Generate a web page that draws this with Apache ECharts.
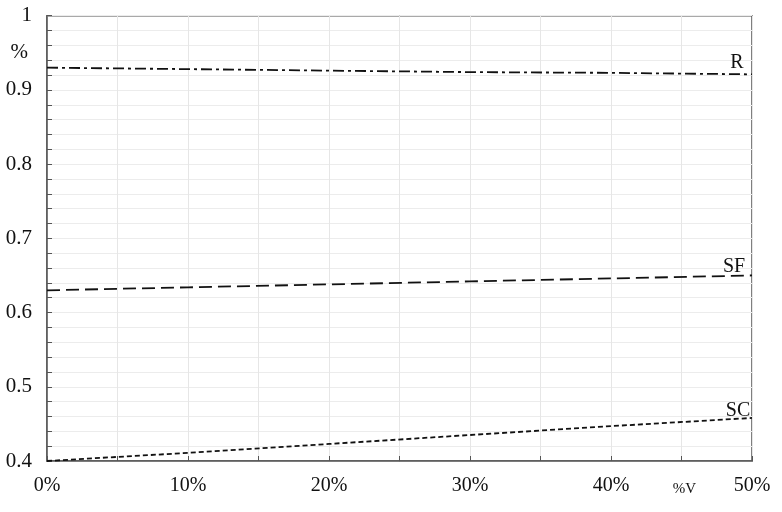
<!DOCTYPE html>
<html><head><meta charset="utf-8">
<script src="https://cdn.jsdelivr.net/npm/echarts@6/dist/echarts.min.js"></script>
<style>html,body{margin:0;padding:0;background:#fff}#c{width:782px;height:512px}</style>
</head><body><div id="c"></div>
<script>
var xValues = [0, 10, 20, 30, 40, 50];
var seriesR = [0.930, 0.928, 0.926, 0.924, 0.923, 0.921];
var seriesSF = [0.630, 0.634, 0.638, 0.642, 0.646, 0.650];
var seriesSC = [0.400, 0.411, 0.423, 0.435, 0.447, 0.458];
var seriesNames = ['R', 'SF', 'SC'];
var yUnitLabel = '%';
var xUnitLabel = '%V';

function pairs(ys){ return xValues.map(function(x,i){ return [x, ys[i]]; }); }
var font = 'Liberation Serif';
function mk(name, ys, dash, off){
  var d = pairs(ys);
  var last = d.length - 1;
  d[last] = {value: d[last], label: {show: true, formatter: name, position: 'inside', offset: off,
    fontFamily: font, fontSize: 20, color: '#111'}};
  return {type: 'line', name: name, data: d, symbol: 'circle', symbolSize: 1, showSymbol: true,
    itemStyle: {color: 'rgba(0,0,0,0)', borderWidth: 0},
    lineStyle: {color: '#111', width: 1.8, type: dash}, z: 5,
    label: {show: false}};
}
var chart = echarts.init(document.getElementById('c'), null, {renderer: 'canvas'});
chart.setOption({
  animation: false,
  backgroundColor: '#fff',
  grid: {left: 47, right: 30, top: 15.7, bottom: 51, show: true, borderColor: '#555', borderWidth: 1.5, backgroundColor: 'transparent'},
  xAxis: {
    type: 'value', min: 0, max: 50, interval: 5,
    axisLine: {show: true, lineStyle: {color: '#555', width: 1.5}},
    axisTick: {show: true, inside: true, length: 5, lineStyle: {color: '#555'}},
    splitLine: {show: true, lineStyle: {color: '#e6e6e6', width: 1}},
    axisLabel: {
      margin: 15, fontFamily: font, fontSize: 20, color: '#111',
      formatter: function(v){
        if (Math.abs(v - 45) < 1e-6) return '{s|' + xUnitLabel + '}';
        if (Math.abs(v % 10) < 1e-6) return v + '%';
        return '';
      },
      rich: {s: {fontFamily: font, fontSize: 15, color: '#111', padding: [6, 0, 0, 6]}}
    }
  },
  yAxis: [{
    type: 'value', min: 0.4, max: 1, interval: 0.02,
    axisLine: {show: true, lineStyle: {color: '#555', width: 1.5}},
    axisTick: {show: true, inside: true, length: 5, lineStyle: {color: '#555'}},
    splitLine: {show: true, lineStyle: {color: '#ececec', width: 1}},
    axisLabel: {
      margin: 15, fontFamily: font, fontSize: 21, color: '#111',
      formatter: function(v){
        var t = v * 10;
        if (Math.abs(t - Math.round(t)) < 1e-6) {
          var r = Math.round(t) / 10;
          return r === 1 ? '1' : r.toFixed(1);
        }
        return '';
      }
    }
  }, {
    type: 'value', min: 0.4, max: 1, interval: 0.05, position: 'left',
    axisLine: {show: false}, axisTick: {show: false}, splitLine: {show: false},
    axisLabel: {
      margin: 19, fontFamily: font, fontSize: 21, color: '#111',
      formatter: function(v){ return Math.abs(v - 0.95) < 1e-6 ? yUnitLabel : ''; }
    }
  }],
  series: [
    mk(seriesNames[0], seriesR, [11, 4, 3, 4], [-15, -12]),
    mk(seriesNames[1], seriesSF, [13, 6], [-18, -9]),
    mk(seriesNames[2], seriesSC, [5, 3], [-14, -7])
  ]
});
</script></body></html>
